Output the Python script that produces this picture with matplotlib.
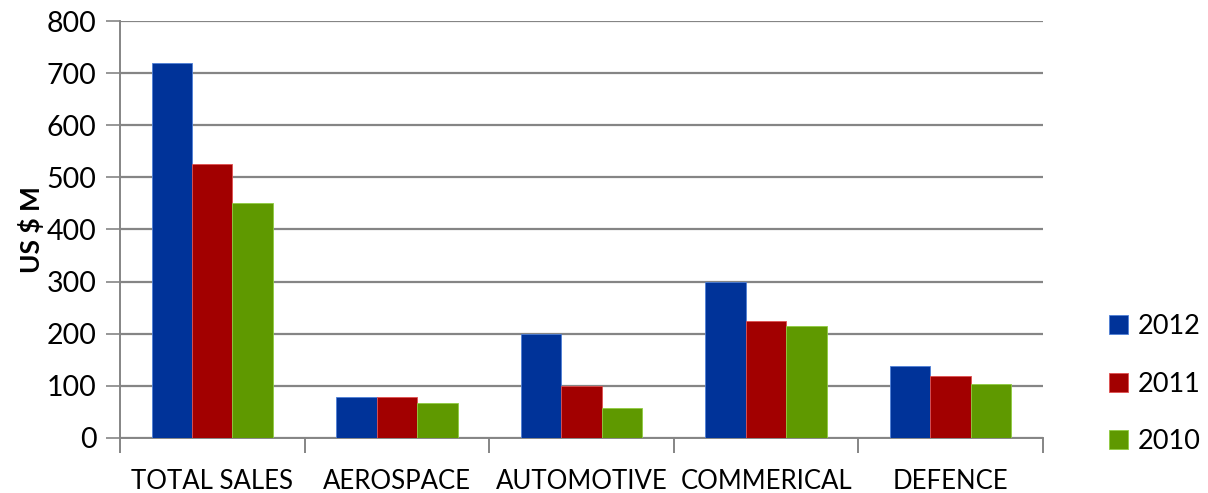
import matplotlib.pyplot as plt
import numpy as np

plt.rcParams['font.family'] = ['Lato', 'DejaVu Sans']

categories = ['TOTAL SALES', 'AEROSPACE', 'AUTOMOTIVE', 'COMMERICAL', 'DEFENCE']
years = ['2012', '2011', '2010']
sales_2012 = [720, 78, 200, 300, 138]
sales_2011 = [525, 78, 100, 224, 118]
sales_2010 = [450, 68, 58, 215, 103]
colors = ['#003399', '#A20000', '#5F9900']
edges = ['#4f7fd6', '#e05050', '#8fcc40']

fig = plt.figure(figsize=(12.08, 4.93), dpi=100)
ax = fig.add_axes([0.0993, 0.1116, 0.7641, 0.8458])

x = np.arange(len(categories))
w = 0.219
for i, (vals, lab) in enumerate(zip([sales_2012, sales_2011, sales_2010], years)):
    ax.bar(x + (i - 1) * w, vals, width=w, color=colors[i], edgecolor=edges[i],
           linewidth=0.6, label=lab, zorder=3)

ax.set_xlim(-0.5, len(categories) - 0.5)
ax.set_ylim(0, 800)
ax.set_yticks(range(0, 801, 100))
ax.yaxis.grid(True, color='#858585', linewidth=1.6, zorder=0)
ax.tick_params(axis='y', length=10, width=1.2, color='#858585', labelsize=20.5, pad=7)

ax.set_xticks(x)
ax.set_xticklabels(categories, fontsize=18.5)
ax.set_xticks(np.arange(-0.5, len(categories)), minor=True)
ax.tick_params(axis='x', which='major', length=0, pad=22)
ax.tick_params(axis='x', which='minor', length=11, width=1.4, color='#858585')

for s in ['top', 'right']:
    ax.spines[s].set_visible(False)
for s in ['left', 'bottom']:
    ax.spines[s].set_color('#858585')
    ax.spines[s].set_linewidth(1.4)

ax.set_ylabel('US $ M', fontsize=19, fontweight='bold', labelpad=2)

ax.legend(loc='lower left', bbox_to_anchor=(1.06, -0.065), frameon=False,
          fontsize=19.5, handlelength=0.7, handleheight=0.7, handletextpad=0.35,
          labelspacing=1.2, borderaxespad=0)

fig.savefig('out.png', dpi=100)
